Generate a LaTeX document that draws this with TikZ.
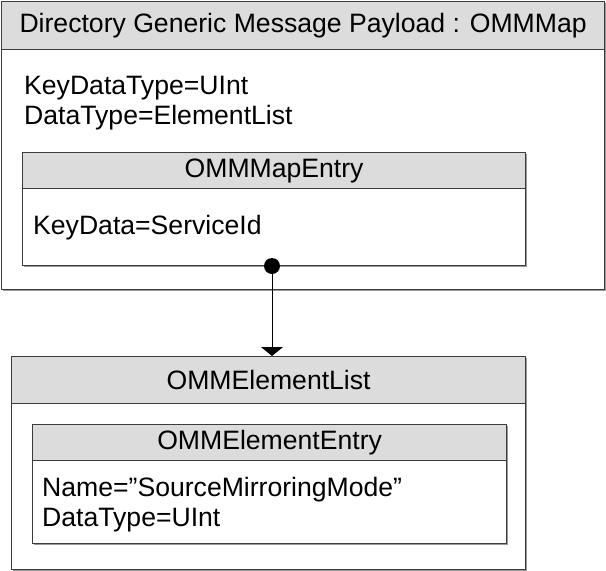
\documentclass[tikz,border=0pt]{standalone}
\usepackage{fontspec}
\setmainfont{Liberation Sans}
\usetikzlibrary{arrows.meta,shadows}
\definecolor{hdr}{HTML}{DCDCDC}
\definecolor{edge}{HTML}{3C3C3C}
\tikzset{
  box/.style={draw=edge, line width=1.2pt, fill=white, anchor=north west, inner sep=0pt,
    drop shadow={shadow xshift=1.3pt, shadow yshift=-1.3pt, fill=black!40, opacity=1}},
  head/.style={draw=edge, line width=1.2pt, fill=hdr, anchor=north west, inner sep=0pt,
    font=\fontsize{26.6}{30}\selectfont},
  body/.style={anchor=base west, inner sep=0pt, font=\fontsize{26.6}{30}\selectfont},
  dotnode/.style={circle, fill=black, inner sep=0pt, minimum size=16pt},
  link/.style={line width=1pt, -{Triangle[width=22pt,length=9pt]}},
}
\begin{document}
\begin{tikzpicture}[x=1pt,y=-1pt]
\useasboundingbox (0,0) rectangle (606,571);
% top map box
\node[box, minimum width=603pt, minimum height=288pt] (map) at (1,1) {};
\node[head, minimum width=603pt, minimum height=48pt] (maphead) at (1,1) {Directory Generic Message Payload : OMMMap};
\node[body] (keytype) at (24,94) {KeyDataType=UInt};
\node[body] (datatype) at (24,124) {DataType=ElementList};
% map entry
\node[box, minimum width=503pt, minimum height=113pt] (entry) at (22,152) {};
\node[head, minimum width=503pt, minimum height=36pt] (entryhead) at (22,152) {OMMMapEntry};
\node[body] (keydata) at (33,234) {KeyData=ServiceId};
% element list
\node[box, minimum width=514pt, minimum height=213pt] (elist) at (11,356) {};
\node[head, minimum width=514pt, minimum height=47pt] (elisthead) at (11,356) {OMMElementList};
% element entry
\node[box, minimum width=474pt, minimum height=119pt] (eentry) at (32,424) {};
\node[head, minimum width=474pt, minimum height=36pt] (eentryhead) at (32,424) {OMMElementEntry};
\node[body] (ename) at (42,496) {Name=”SourceMirroringMode”};
\node[body] (etype) at (42,526) {DataType=UInt};
% connector
\node[dotnode] (dot) at (272,266) {};
\draw[link] (dot.center) -- (dot.center |- elist.north);
\end{tikzpicture}
\end{document}
